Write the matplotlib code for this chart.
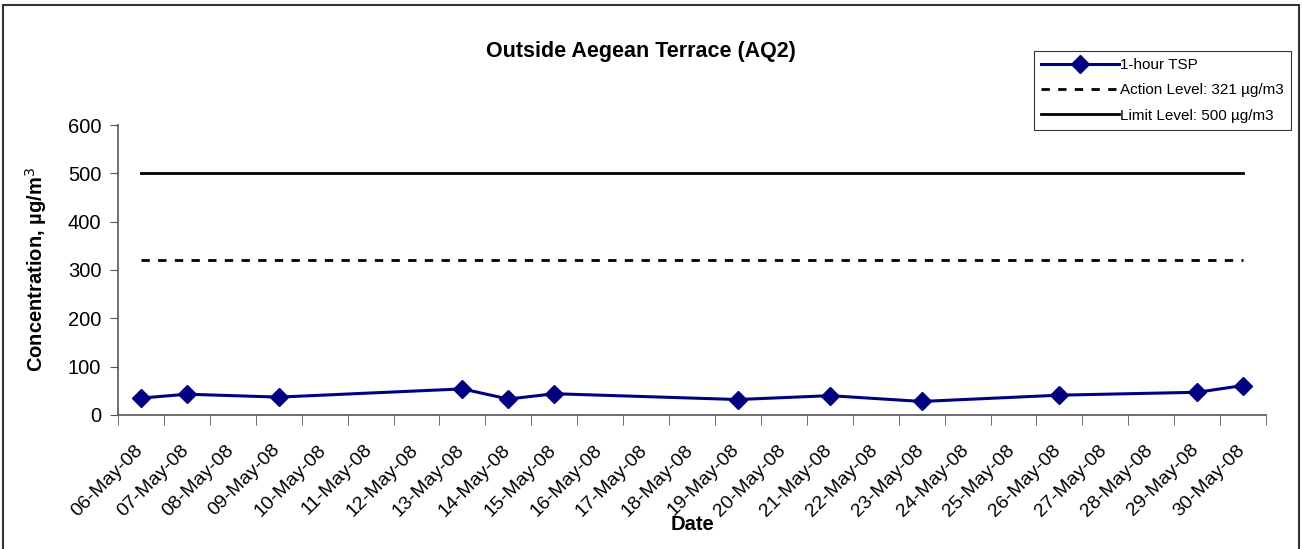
import matplotlib
matplotlib.use("Agg")
import matplotlib.pyplot as plt
import numpy as np
from matplotlib.patches import Rectangle
from matplotlib.transforms import ScaledTranslation

plt.rcParams["font.family"] = ["Liberation Sans", "DejaVu Sans"]

# category axis: one slot per day
days = [f"{d:02d}-May-08" for d in range(6, 31)]
# measured 1-hour TSP (date -> concentration)
tsp_dates = ["06-May-08", "07-May-08", "09-May-08", "13-May-08", "14-May-08", "15-May-08",
             "19-May-08", "21-May-08", "23-May-08", "26-May-08", "29-May-08", "30-May-08"]
tsp_values = [35, 43, 37, 54, 33, 44, 32, 40, 28, 41, 47, 61]
action_level = 321
limit_level = 500

fig = plt.figure(figsize=(13.02, 5.49), dpi=100)
ax = fig.add_axes([0.0906, 0.2441, 0.8818, 0.5282])

pos = np.arange(len(days))
tsp_x = [days.index(d) for d in tsp_dates]
ax.plot(tsp_x, tsp_values, color="#000080", lw=2.2, marker="D", ms=9,
        label="1-hour TSP", zorder=3)
ax.plot(pos[[0, -1]], [action_level] * 2, color="black", lw=2.0, ls=(0, (3, 3)),
        label="Action Level: 321 µg/m3")
ax.plot(pos[[0, -1]], [limit_level] * 2, color="black", lw=2.0,
        label="Limit Level: 500 µg/m3")

ax.set_xlim(-0.5, len(days) - 0.5)
ax.set_ylim(0, 600)
ax.set_yticks(range(0, 601, 100))
ax.tick_params(axis="y", labelsize=14.5, length=6, color="#555555", pad=6)

ax.set_xticks(pos)
ax.set_xticklabels(days, rotation=45, ha="right", va="top", rotation_mode="anchor")
ax.tick_params(axis="x", which="major", length=0, labelsize=14, pad=19)
ax.set_xticks(np.arange(-0.5, len(days)), minor=True)
ax.tick_params(axis="x", which="minor", length=7, color="#555555")
shift = ScaledTranslation(-0.07, 0, fig.dpi_scale_trans)
for lab in ax.get_xticklabels():
    lab.set_transform(lab.get_transform() + shift)

for s in ("top", "right"):
    ax.spines[s].set_visible(False)
for s in ("left", "bottom"):
    ax.spines[s].set_color("#555555")
    ax.spines[s].set_linewidth(1.2)

fig.text(641 / 1302, 1 - 51 / 549, "Outside Aegean Terrace (AQ2)", fontsize=15.5,
         fontweight="bold", ha="center", va="center")
ax.set_xlabel("Date", fontsize=14.5, fontweight="bold")
ax.xaxis.set_label_coords(0.5, -0.345)
ax.set_ylabel("Concentration, µg/m$^3$", fontsize=14.5, fontweight="bold")
ax.yaxis.set_label_coords(-0.06, 0.5)

leg = ax.legend(loc="upper left", bbox_to_anchor=(1034 / 1302, 1 - 51 / 549),
                bbox_transform=fig.transFigure, fontsize=11,
                frameon=True, fancybox=False, edgecolor="black", handlelength=5.1,
                handletextpad=0.1, borderpad=0.45, labelspacing=0.75, borderaxespad=0)
leg.get_frame().set_linewidth(0.8)

fig.patches.append(Rectangle((3 / 1302, -0.01), 1296 / 1302, 1 - 5 / 549 + 0.01,
                             transform=fig.transFigure, fill=False,
                             edgecolor="#333333", lw=1.5))

fig.savefig("out.png", dpi=100)
